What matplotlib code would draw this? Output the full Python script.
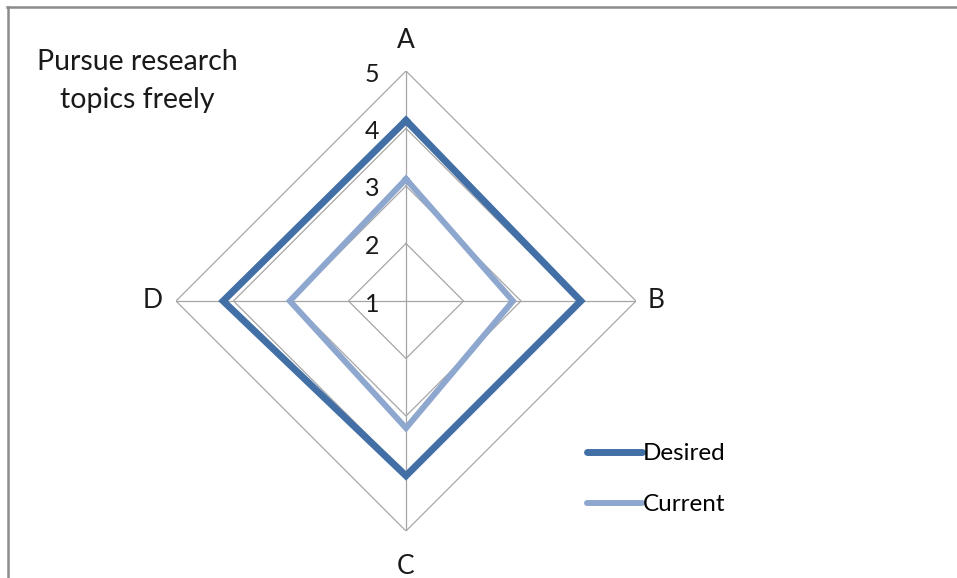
import numpy as np
import matplotlib
matplotlib.use("Agg")
import matplotlib.pyplot as plt
from matplotlib.lines import Line2D

plt.rcParams['font.family'] = ['Lato', 'DejaVu Sans']

# Data
categories = ["A", "B", "C", "D"]
desired = [4.14, 4.04, 4.04, 4.18]
current = [3.12, 2.86, 3.21, 3.02]
rings = [1, 2, 3, 4, 5]
series_names = ["Desired", "Current"]

c_desired = "#416FA6"
c_current = "#8EA7CE"
c_grid = "#A6A6A6"
c_text = "#1a1a1a"

W, H = 957, 578
fig = plt.figure(figsize=(W / 100, H / 100), dpi=100)
fig.patch.set_facecolor("white")

cx, cy, R = 406, 301, 230
ax = fig.add_axes([(cx - R) / W, (H - cy - R) / H, 2 * R / W, 2 * R / H],
                  projection="polar")
ax.set_theta_offset(np.pi / 2)
ax.set_theta_direction(-1)
ax.set_ylim(rings[0], rings[-1])
ax.grid(False)
ax.spines["polar"].set_visible(False)
ax.set_xticks([])
ax.set_yticks([])
ax.patch.set_alpha(0)

theta = np.linspace(0, 2 * np.pi, len(categories), endpoint=False)
closed_t = np.append(theta, theta[0])

# polygon gridlines
for r in rings[1:]:
    ax.plot(closed_t, [r] * len(closed_t), color=c_grid, lw=0.9, zorder=1,
            solid_joinstyle="miter")
# spokes
for t in theta:
    ax.plot([t, t], [rings[0], rings[-1]], color=c_grid, lw=0.9, zorder=1)

# series
ax.plot(closed_t, current + current[:1], color=c_current, lw=4.3, zorder=3,
        solid_joinstyle="miter")
ax.plot(closed_t, desired + desired[:1], color=c_desired, lw=5.0, zorder=4,
        solid_joinstyle="miter")

# radial tick labels along the A axis
for r in rings:
    ax.annotate(str(r), xy=(0, r), xytext=(-34, -3), textcoords="offset pixels",
                fontsize=18, ha="center", va="center", color=c_text, zorder=5)

# category labels
offsets = [(0, 30), (20, 0), (0, -36), (-23, 0)]
for t, c, off in zip(theta, categories, offsets):
    ax.annotate(c, xy=(t, rings[-1]), xytext=off, textcoords="offset pixels",
                fontsize=19, ha="center", va="center", color=c_text,
                annotation_clip=False)

# title
fig.text(137 / W, 1 - 62 / H, "Pursue research", fontsize=20.5,
         ha="center", va="center", color=c_text)
fig.text(137 / W, 1 - 100 / H, "topics freely", fontsize=20.5,
         ha="center", va="center", color=c_text)

# legend
handles = [Line2D([0], [0], color=c_desired, lw=5.0, solid_capstyle="round"),
           Line2D([0], [0], color=c_current, lw=4.3, solid_capstyle="round")]
fig.legend(handles, series_names, loc="upper left",
           bbox_to_anchor=(587 / W, 1 - 443 / H), frameon=False,
           fontsize=17.5, handlelength=2.25, handletextpad=0.05,
           labelspacing=1.25, borderaxespad=0, borderpad=0)

# chart border (left and top edges)
fig.add_artist(Line2D([8 / W, 8 / W], [0, 1 - 7 / H], color="#8C8C8C", lw=1.8,
                      transform=fig.transFigure))
fig.add_artist(Line2D([7 / W, 1], [1 - 7 / H, 1 - 7 / H], color="#8C8C8C",
                      lw=1.8, transform=fig.transFigure))

fig.savefig("out.png", dpi=100, facecolor="white")
